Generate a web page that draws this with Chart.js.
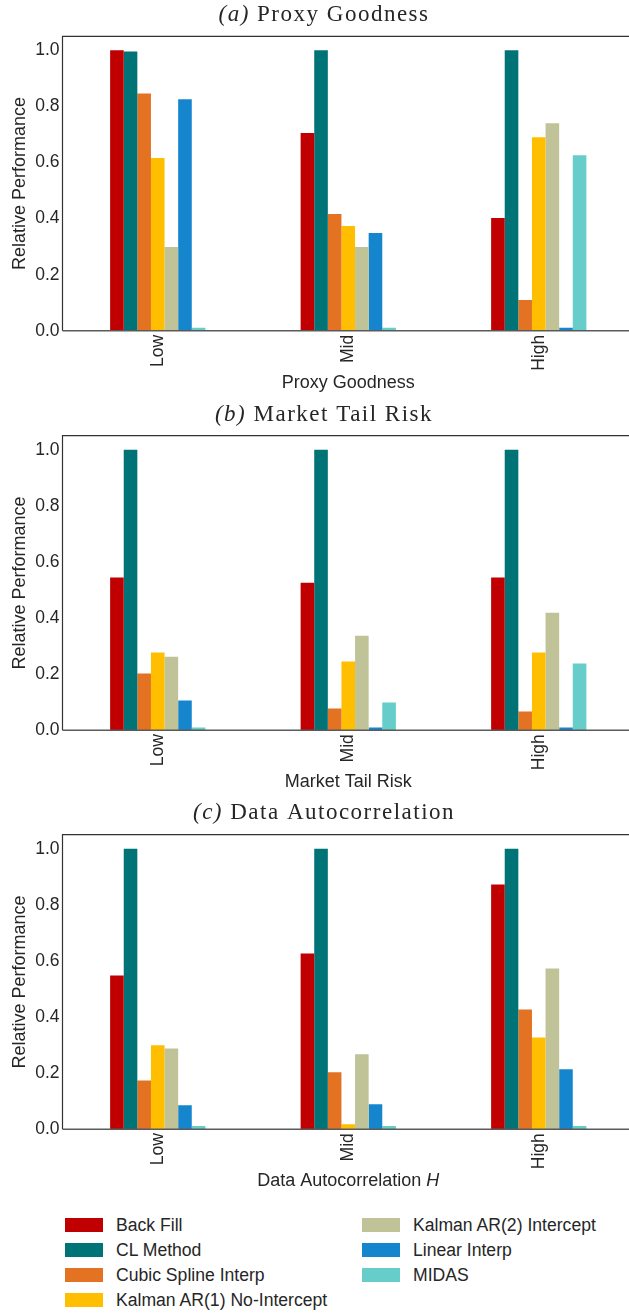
<!DOCTYPE html>
<html>
<head>
<meta charset="utf-8">
<script src="https://cdn.jsdelivr.net/npm/chart.js@4"></script>
<style>
  html, body { margin: 0; padding: 0; background: #fff; overflow: hidden; }
  body { width: 629px; height: 1313px; position: relative; font-family: 'Liberation Sans', Arial, sans-serif; color: #262626; }
  canvas { position: absolute; left: 0; }
  .leg-item { position: absolute; height: 20px; display: flex; align-items: center; font-size: 17.6px; white-space: nowrap; }
  .leg-box { width: 38px; height: 14px; margin-right: 13px; }
</style>
</head>
<body>
<canvas id="panel-a" width="640" height="400" style="top:0px"></canvas>
<canvas id="panel-b" width="640" height="400" style="top:400px"></canvas>
<canvas id="panel-c" width="640" height="400" style="top:800px"></canvas>
<div id="legend"></div>
<script>
// ── Data ─────────────────────────────────────────────────────────────────────

const categories = ['Low', 'Mid', 'High'];

const methods = [
  'Back Fill',
  'CL Method',
  'Cubic Spline Interp',
  'Kalman AR(1) No-Intercept',
  'Kalman AR(2) Intercept',
  'Linear Interp',
  'MIDAS',
];

const colors = ['#c00000', '#007377', '#e37222', '#ffbf00', '#bfc397', '#1586ce', '#66cdca'];

// one row per method, values for Low / Mid / High
const proxyGoodness = [
  [1.000, 0.705, 0.402],
  [0.996, 1.000, 1.000],
  [0.846, 0.416, 0.110],
  [0.616, 0.374, 0.690],
  [0.299, 0.299, 0.740],
  [0.826, 0.349, 0.011],
  [0.011, 0.011, 0.626],
];

const marketTailRisk = [
  [0.544, 0.526, 0.544],
  [1.000, 1.000, 1.000],
  [0.202, 0.077, 0.067],
  [0.277, 0.245, 0.277],
  [0.262, 0.337, 0.419],
  [0.106, 0.010, 0.010],
  [0.010, 0.099, 0.238],
];

const dataAutocorr = [
  [0.548, 0.626, 0.872],
  [1.000, 1.000, 1.000],
  [0.174, 0.203, 0.427],
  [0.299, 0.018, 0.327],
  [0.288, 0.267, 0.573],
  [0.085, 0.089, 0.214],
  [0.011, 0.011, 0.011],
];

const yTicks = [0, 0.2, 0.4, 0.6, 0.8, 1.0];

// ── Drawing helpers ──────────────────────────────────────────────────────────

const TEXT = '#262626';
const PLOT_H = 294.5;

function drawParts(ctx, parts, cx, cy) {
  let total = 0;
  parts.forEach(p => {
    ctx.font = p.font;
    ctx.letterSpacing = p.spacing || '0px';
    p.w = ctx.measureText(p.text).width;
    total += p.w;
  });
  let x = cx - total / 2;
  parts.forEach(p => {
    ctx.font = p.font;
    ctx.letterSpacing = p.spacing || '0px';
    ctx.fillText(p.text, x, cy);
    x += p.w;
  });
  ctx.letterSpacing = '0px';
}

const panelDecor = {
  id: 'panelDecor',
  afterDraw(chart, args, opts) {
    const ctx = chart.ctx;
    const a = chart.chartArea;
    ctx.save();
    // frame: left + top dark, bottom axis grey
    ctx.strokeStyle = '#333';
    ctx.lineWidth = 1.2;
    ctx.beginPath();
    ctx.moveTo(a.left, a.bottom);
    ctx.lineTo(a.left, a.top);
    ctx.lineTo(a.right + 10, a.top);
    ctx.stroke();
    ctx.strokeStyle = '#5a5a5a';
    ctx.lineWidth = 1.6;
    ctx.beginPath();
    ctx.moveTo(a.left, a.bottom);
    ctx.lineTo(a.right + 10, a.bottom);
    ctx.stroke();

    ctx.fillStyle = TEXT;
    ctx.textAlign = 'left';
    ctx.textBaseline = 'middle';
    const serif = "23px 'Liberation Serif', 'Times New Roman', serif";
    drawParts(ctx, [
      { text: '(' + opts.tag + ')', font: 'italic ' + serif, spacing: '1.5px' },
      { text: ' ' + opts.title, font: serif, spacing: '1.5px' },
    ], 324, opts.titleY);

    const sans = "18px 'Liberation Sans', Arial, sans-serif";
    const parts = [{ text: opts.xlabel, font: sans }];
    if (opts.xlabelItalic) parts.push({ text: opts.xlabelItalic, font: 'italic ' + sans });
    drawParts(ctx, parts, (a.left + a.right) / 2, a.bottom + 52);
    ctx.restore();
  }
};

function makePanel(id, values, tag, title, xlabel, xlabelItalic, plotTop, titleY) {
  const xHeight = 400 - plotTop - PLOT_H;
  return new Chart(document.getElementById(id), {
    type: 'bar',
    data: {
      labels: categories,
      datasets: methods.map((m, i) => ({
        label: m,
        data: values[i],
        backgroundColor: colors[i],
        borderWidth: 0,
        barPercentage: 1.0,
        categoryPercentage: 0.5,
      })),
    },
    options: {
      responsive: false,
      animation: false,
      layout: { padding: { top: plotTop, right: 6, left: 0, bottom: 0 } },
      plugins: {
        legend: { display: false },
        tooltip: { enabled: false },
        panelDecor: { tag, title, xlabel, xlabelItalic, titleY },
      },
      scales: {
        x: {
          grid: { display: false, drawTicks: false },
          border: { display: false },
          ticks: {
            color: TEXT,
            font: { family: "'Liberation Sans', Arial, sans-serif", size: 17.5 },
            minRotation: 90, maxRotation: 90,
            autoSkip: false,
            padding: 4,
          },
          afterFit: s => { s.height = xHeight; },
        },
        y: {
          min: 0, max: 1.05,
          grid: { display: false, drawTicks: false },
          border: { display: false },
          afterBuildTicks: s => { s.ticks = yTicks.map(v => ({ value: v })); },
          ticks: {
            color: TEXT,
            font: { family: "'Liberation Sans', Arial, sans-serif", size: 17.5 },
            padding: 3,
            callback: v => v.toFixed(1),
          },
          title: {
            display: true,
            text: 'Relative Performance',
            color: TEXT,
            font: { family: "'Liberation Sans', Arial, sans-serif", size: 18 },
            padding: { top: 9, bottom: 0 },
          },
          afterFit: s => { s.width = 62.5; },
        },
      },
    },
    plugins: [panelDecor],
  });
}

makePanel('panel-a', proxyGoodness, 'a', 'Proxy Goodness', 'Proxy Goodness', '', 36.3, 15);
makePanel('panel-b', marketTailRisk, 'b', 'Market Tail Risk', 'Market Tail Risk', '', 35.7, 15);
makePanel('panel-c', dataAutocorr, 'c', 'Data Autocorrelation', 'Data Autocorrelation ', 'H', 34.7, 13);

// ── Legend (two columns, filled top to bottom) ───────────────────────────────

const legend = document.getElementById('legend');
methods.forEach((m, i) => {
  const col = i < 4 ? 0 : 1;
  const row = i < 4 ? i : i - 4;
  const item = document.createElement('div');
  item.className = 'leg-item';
  item.style.left = (col === 0 ? 65 : 362) + 'px';
  item.style.top = (1215 + row * 25) + 'px';
  item.innerHTML = `<span class="leg-box" style="background:${colors[i]}"></span>${m}`;
  legend.appendChild(item);
});
</script>
</body>
</html>
